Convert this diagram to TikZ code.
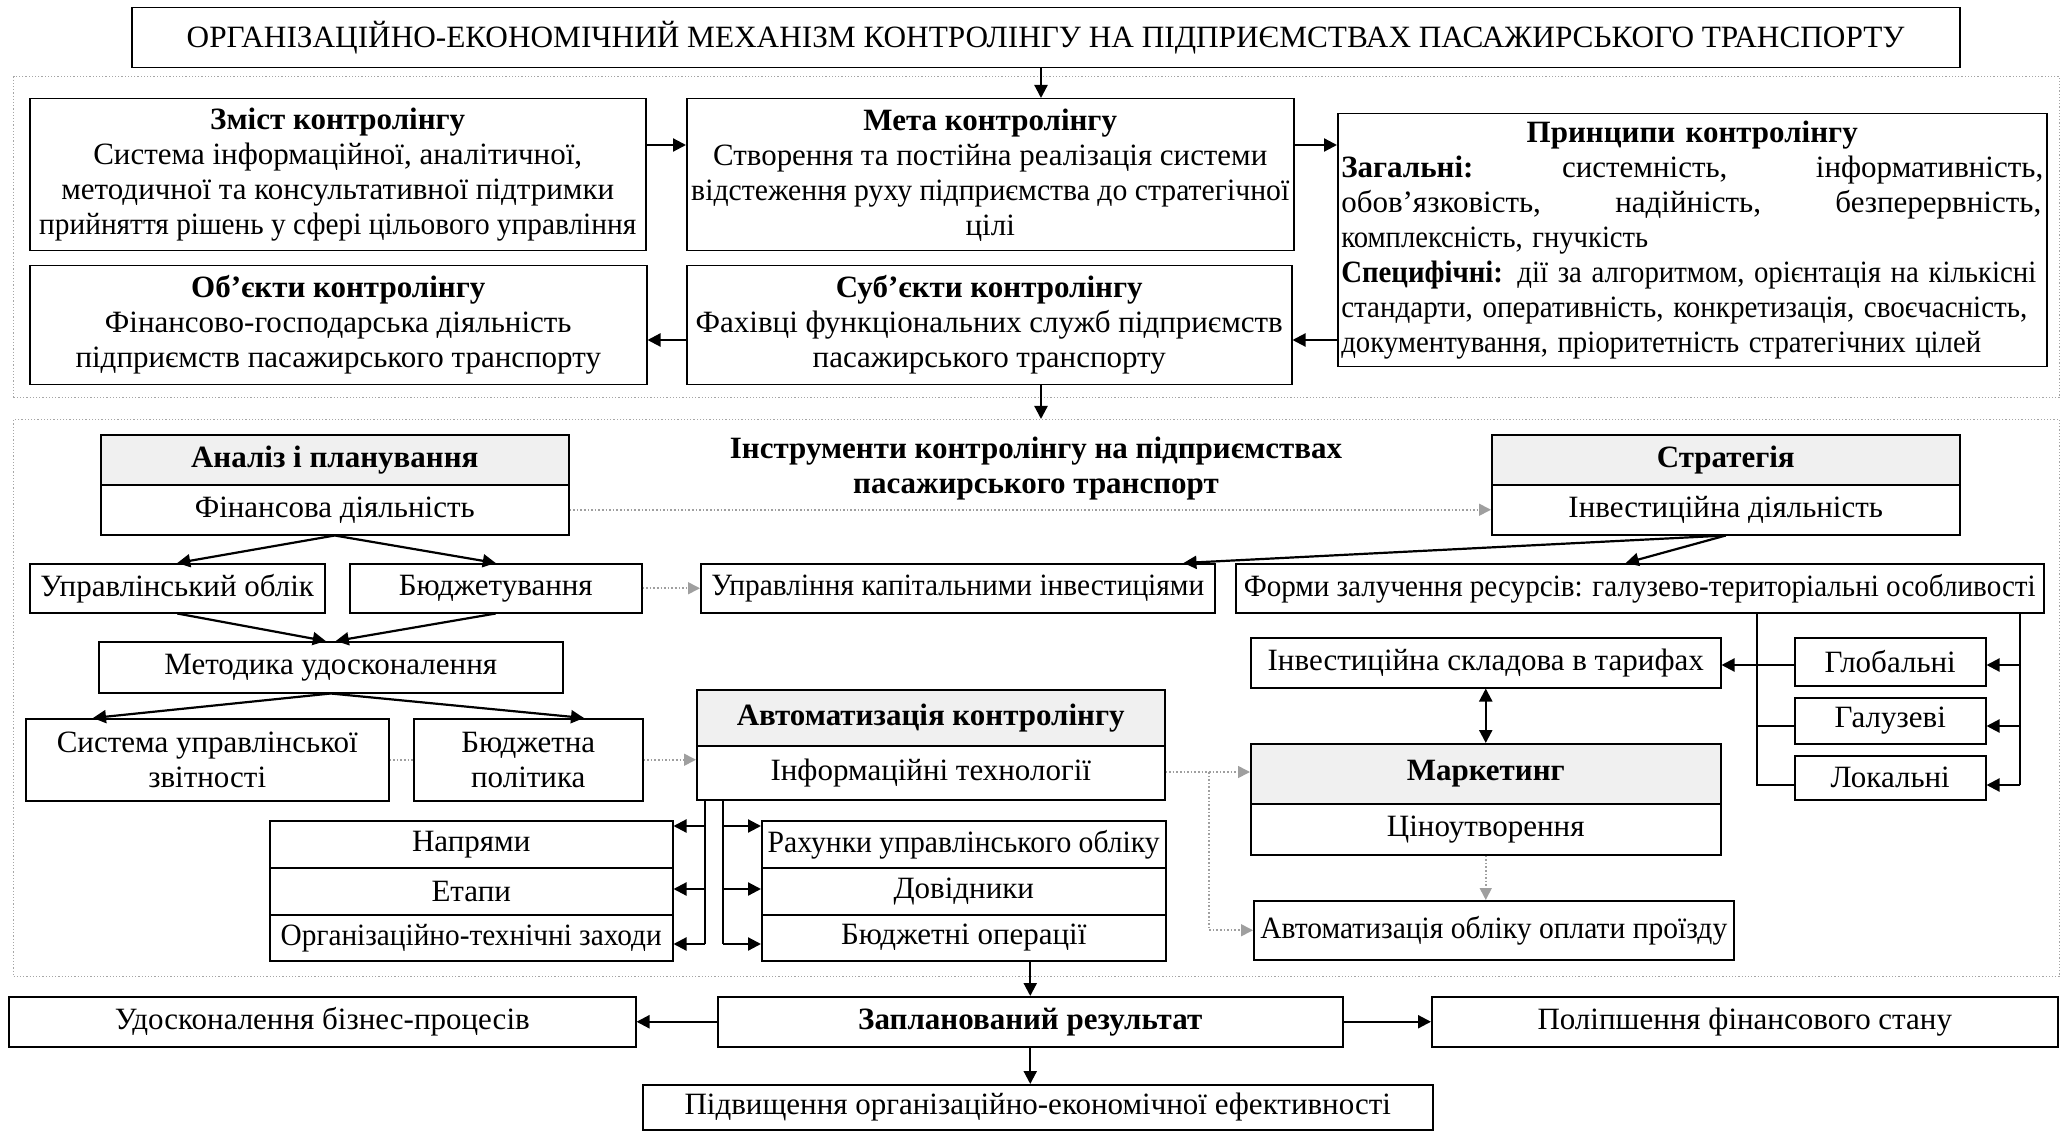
\documentclass[tikz,border=0pt]{standalone}
\usepackage{fontspec}
\usepackage{graphicx}
\setmainfont{Liberation Serif}
\usetikzlibrary{arrows.meta,calc}
\newcommand\fitw[2]{\resizebox{#1}{\height}{#2}}
\begin{document}
\begin{tikzpicture}[x=1pt,y=-1pt,
 every node/.style={font=\fontsize{31}{35}\selectfont},
 cbox/.style args={#1/#2/#3/#4}{anchor=north west, at={(#1,#2)}, minimum width={(#3)-(#1)}, minimum height={(#4)-(#2)}},
 box/.style={draw, line width=1.5pt, inner sep=0pt, align=center},
 hdr/.style={box, fill=black!6},
 cont/.style={draw=gray!70, line width=1.2pt, dotted, inner sep=0pt},
 arr/.style={line width=2.2pt, -{Triangle[length=13pt,width=13pt]}},
 dbl/.style={line width=2.2pt, {Triangle[length=13pt,width=13pt]}-{Triangle[length=13pt,width=13pt]}},
 link/.style={line width=1.5pt},
 darr/.style={draw=gray!75, line width=1.6pt, dotted, -{Triangle[length=12pt,width=12pt,fill=gray!75]}},
 dline/.style={draw=gray!75, line width=1.6pt, dotted},
 boldtxt/.style={font=\fontsize{31}{35}\selectfont\bfseries, align=center}
]
\useasboundingbox (0,0) rectangle (2067,1131);
% title
\node[box, cbox=131/7/1959/67] (title) {\fitw{1718pt}{ОРГАНІЗАЦІЙНО-ЕКОНОМІЧНИЙ МЕХАНІЗМ КОНТРОЛІНГУ НА ПІДПРИЄМСТВАХ ПАСАЖИРСЬКОГО ТРАНСПОРТУ}};
% container 1
\node[cont, cbox=13/76/2059/397] (c1) {};
\node[box, cbox=29/98/645/250] (zmist) {\textbf{Зміст контролінгу}\\Система інформаційної, аналітичної,\\методичної та консультативної підтримки\\\fitw{597pt}{прийняття рішень у сфері цільового управління}};
\node[box, cbox=686/98/1293/250] (meta) {\textbf{Мета контролінгу}\\\fitw{554pt}{Створення та постійна реалізація системи}\\\fitw{598pt}{відстеження руху підприємства до стратегічної}\\цілі};
\node[box, cbox=1337/113/2046/366, text width=702pt, align=left] (pryn) {%
\makebox[702pt][c]{\textbf{Принципи контролінгу}}\\
\makebox[702pt][l]{\textbf{Загальні:}\hfill системність,\hfill інформативність,}\\
\makebox[702pt][l]{обов’язковість,\hfill надійність,\hfill безперервність,\hspace{2pt}}\\
\fitw{307pt}{комплексність, гнучкість}\\
\fitw{695pt}{\textbf{Специфічні:} дії за алгоритмом, орієнтація на кількісні}\\
\fitw{686pt}{стандарти, оперативність, конкретизація, своєчасність,}\\
\fitw{640pt}{документування, пріоритетність стратегічних цілей}};
\node[box, cbox=29/265/646/384] (obj) {\textbf{Об’єкти контролінгу}\\Фінансово-господарська діяльність\\підприємств пасажирського транспорту};
\node[box, cbox=686/265/1291/384] (subj) {\textbf{Суб’єкти контролінгу}\\Фахівці функціональних служб підприємств\\пасажирського транспорту};
% container 2
\node[cont, cbox=13/419/2059/976] (c2) {};
\node[boldtxt] (instr) at (1036,469) {Інструменти контролінгу на підприємствах\\пасажирського транспорт};
\node[hdr, cbox=100/434/568/484] (an1) {\textbf{Аналіз і планування}};
\node[box, cbox=100/484/568/534] (an2) {Фінансова діяльність};
\node[hdr, cbox=1491/434/1959/484] (st1) {\textbf{Стратегія}};
\node[box, cbox=1491/484/1959/534] (st2) {Інвестиційна діяльність};
\node[box, cbox=29/563/324/612] (uo) {Управлінський облік};
\node[box, cbox=349/563/641/612] (bud) {Бюджетування};
\node[box, cbox=700/563/1214/612] (ukap) {\fitw{493pt}{Управління капітальними інвестиціями}};
\node[box, cbox=1235/563/2043/612] (formy) {\fitw{792pt}{Форми залучення ресурсів: галузево-територіальні особливості}};
\node[box, cbox=98/641/562/692] (met) {Методика удосконалення};
\node[box, cbox=25/718/388/800] (sys) {Система управлінської\\звітності};
\node[box, cbox=413/718/642/800] (bpol) {Бюджетна\\політика};
\node[hdr, cbox=696/689/1164/745] (au1) {\textbf{Автоматизація контролінгу}};
\node[box, cbox=696/745/1164/799] (au2) {Інформаційні технології};
\node[box, cbox=1250/637/1720/687] (invt) {Інвестиційна складова в тарифах};
\node[box, cbox=1794/637/1985/685] (glob) {Глобальні};
\node[box, cbox=1794/697/1985/743] (galuz) {Галузеві};
\node[box, cbox=1794/755/1985/799] (lokal) {Локальні};
\node[hdr, cbox=1250/743/1720/803] (mk1) {\textbf{Маркетинг}};
\node[box, cbox=1250/803/1720/854] (mk2) {Ціноутворення};
\node[box, cbox=1253/900/1733/959] (aob) {\fitw{467pt}{Автоматизація обліку оплати проїзду}};
\node[box, cbox=269/820/672/867] (napr) {Напрями};
\node[box, cbox=269/867/672/914] (etap) {Етапи};
\node[box, cbox=269/914/672/960] (org) {\fitw{381pt}{Організаційно-технічні заходи}};
\node[box, cbox=761/820/1165/867] (rah) {\fitw{392pt}{Рахунки управлінського обліку}};
\node[box, cbox=761/867/1165/914] (dov) {Довідники};
\node[box, cbox=761/914/1165/960] (bop) {Бюджетні операції};
% results
\node[box, cbox=717/996/1342/1046] (zapl) {\textbf{Запланований результат}};
\node[box, cbox=8/996/635/1046] (udos) {Удосконалення бізнес-процесів};
\node[box, cbox=1431/996/2057/1046] (polip) {Поліпшення фінансового стану};
\node[box, cbox=642/1084/1432/1129] (pidv) {Підвищення організаційно-економічної ефективності};
% connectors top
\coordinate (ax) at (1041,0);
\coordinate (y1) at (0,145);
\coordinate (y2) at (0,340);
\draw[arr] (ax |- title.south) -- (ax |- meta.north);
\draw[arr] (zmist.east |- y1) -- (meta.west |- y1);
\draw[arr] (meta.east |- y1) -- (pryn.west |- y1);
\draw[arr] (pryn.west |- y2) -- (subj.east |- y2);
\draw[arr] (subj.west |- y2) -- (obj.east |- y2);
\draw[arr] (ax |- subj.south) -- (ax |- c2.north);
% analysis branch
\draw[arr] (an2.south) -- (uo.north);
\draw[arr] (an2.south) -- (bud.north);
\draw[arr] (uo.south) -- ([xshift=-5pt]met.north);
\draw[arr] (bud.south) -- ([xshift=5pt]met.north);
\draw[arr] (met.south) -- ($(sys.north west)+(68,0)$);
\draw[arr] (met.south) -- ($(bpol.north west)+(171,0)$);
\draw[darr] (an2.east) -- (st2.west);
\draw[darr] (bud.east) -- (ukap.west);
\draw[dline] (sys.east) -- (bpol.west);
\draw[darr] (bpol.east) -- (bpol.east -| au2.west);
% strategy branch
\draw[arr] (st2.south) -- ($(ukap.north east)+(-32,0)$);
\draw[arr] (st2.south) -- ([xshift=-14pt]formy.north);
\coordinate (lx) at (1757,0);
\coordinate (rx) at (2020,0);
\coordinate (g1) at (0,665);
\coordinate (g2) at (0,726);
\coordinate (g3) at (0,785);
\draw[link] (lx |- formy.south) -- (lx |- g3) -- (lokal.west |- g3);
\draw[link] (lx |- g2) -- (galuz.west |- g2);
\draw[arr] (glob.west |- g1) -- (invt.east |- g1);
\draw[link] (rx |- formy.south) -- (rx |- g3);
\draw[arr] (rx |- g1) -- (glob.east |- g1);
\draw[arr] (rx |- g2) -- (galuz.east |- g2);
\draw[arr] (rx |- g3) -- (lokal.east |- g3);
\draw[dbl] (invt.south) -- (mk1.north);
% automation branch
\coordinate (ad) at (1209,772);
\draw[dline] (au2.east |- ad) -- (ad);
\draw[darr] (ad) -- (mk1.west |- ad);
\draw[darr] (ad) -- (ad |- aob.west) -- (aob.west);
\draw[darr] (mk2.south) -- (mk2.south |- aob.north);
\coordinate (sl) at (705,0);
\coordinate (sr) at (723,0);
\coordinate (s1) at (0,826);
\coordinate (s2) at (0,889);
\coordinate (s3) at (0,944);
\draw[link] (sl |- au2.south) -- (sl |- s3);
\draw[arr] (sl |- s1) -- (napr.east |- s1);
\draw[arr] (sl |- s2) -- (etap.east |- s2);
\draw[arr] (sl |- s3) -- (org.east |- s3);
\draw[link] (sr |- au2.south) -- (sr |- s3);
\draw[arr] (sr |- s1) -- (rah.west |- s1);
\draw[arr] (sr |- s2) -- (dov.west |- s2);
\draw[arr] (sr |- s3) -- (bop.west |- s3);
% results connectors
\draw[arr] (bop.south -| zapl.north) -- (zapl.north);
\draw[arr] (zapl.west) -- (udos.east);
\draw[arr] (zapl.east) -- (polip.west);
\draw[arr] (zapl.south) -- (zapl.south |- pidv.north);
\end{tikzpicture}
\end{document}
